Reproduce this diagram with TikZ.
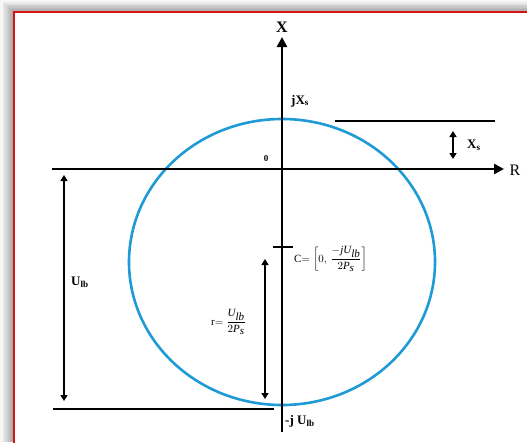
\documentclass[tikz,border=0pt]{standalone}
\usepackage{fontspec}
\setmainfont{Liberation Serif}
\usetikzlibrary{arrows.meta}
\definecolor{circblue}{RGB}{30,155,215}
\definecolor{framered}{RGB}{215,20,20}
\tikzset{
  axis/.style={line width=2.8pt, -{Triangle[length=10pt,width=10pt]}},
  bar/.style={line width=2.8pt},
  dim/.style={line width=1.8pt, {Triangle[length=6pt,width=7pt]}-{Triangle[length=6pt,width=7pt]}},
  lbl/.style={inner sep=0pt, font=\bfseries\fontsize{13}{15}\selectfont},
  mlbl/.style={inner sep=0pt, font=\fontsize{11}{13}\selectfont},
}
\begin{document}
\begin{tikzpicture}[x=1pt,y=-1pt]
\useasboundingbox (0,0) rectangle (527,442);
% shadow and frame
\fill[gray!6] (0,0) rectangle (527,442);
\foreach \i in {0,...,7}{
  \fill[black, opacity=0.05] ({14-1.6*\i},{12-1.4*\i}) rectangle (527,442);
}
\filldraw[fill=white, draw=framered, line width=1.2pt] (14,12) rectangle (528,450);
% coordinates
\coordinate (ybot) at (282,432);
\coordinate (ytop) at (282,37);
\coordinate (xl) at (52,169);
\coordinate (xr) at (504,169);
\coordinate (cc) at (282,262);
% circle
\draw[circblue, line width=2.6pt] (cc) ellipse [x radius=153, y radius=143];
% axes
\draw[axis] (ybot) -- (ytop);
\draw[axis] (xl) -- (xr);
\node[inner sep=0pt, font=\bfseries\fontsize{16}{18}\selectfont] (xlab) at (282,27) {X};
\node[inner sep=0pt, font=\fontsize{16}{18}\selectfont] (rlab) at (515,170) {R};
\node[inner sep=0pt, font=\bfseries\fontsize{9}{10}\selectfont] (zero) at (266,159) {0};
% top line
\coordinate (tl1) at (335,121);
\coordinate (tl2) at (495,121);
\draw[bar] (tl1) -- (tl2);
\coordinate (xs1) at (453,131);
\coordinate (xs2) at (453,159);
\draw[dim] (xs1) -- (xs2);
\node[lbl, anchor=west] (xslab) at (467,145) {X\textsubscript{s}};
\node[lbl, anchor=west] (jxs) at (291,101) {jX\textsubscript{s}};
% bottom line
\coordinate (bl1) at (53,409);
\coordinate (bl2) at (274,409);
\draw[bar] (bl1) -- (bl2);
\node[lbl, anchor=west] (mjulb) at (285,421) {-j U\textsubscript{lb}};
% U_lb dimension
\coordinate (u1) at (64,175);
\coordinate (u2) at (64,401);
\draw[dim] (u1) -- (u2);
\node[lbl, anchor=west] (ulb) at (71,282) {U\textsubscript{lb}};
% centre tick
\coordinate (t1) at (273,247);
\coordinate (t2) at (293,247);
\draw[bar] (t1) -- (t2);
\node[mlbl, anchor=west] (clab) at (294,259) {C$=\left[0,\,\displaystyle\frac{-\textit{jU}_{\textit{lb}}}{2\textit{P}_{\textit{s}}}\right]$};
% r dimension
\coordinate (r1) at (265,259);
\coordinate (r2) at (265,399);
\draw[dim] (r1) -- (r2);
\node[mlbl, anchor=east] (rlabel) at (246,322) {r$=\displaystyle\frac{\textit{U}_{\textit{lb}}}{2\textit{P}_{\textit{s}}}$};
\end{tikzpicture}
\end{document}
